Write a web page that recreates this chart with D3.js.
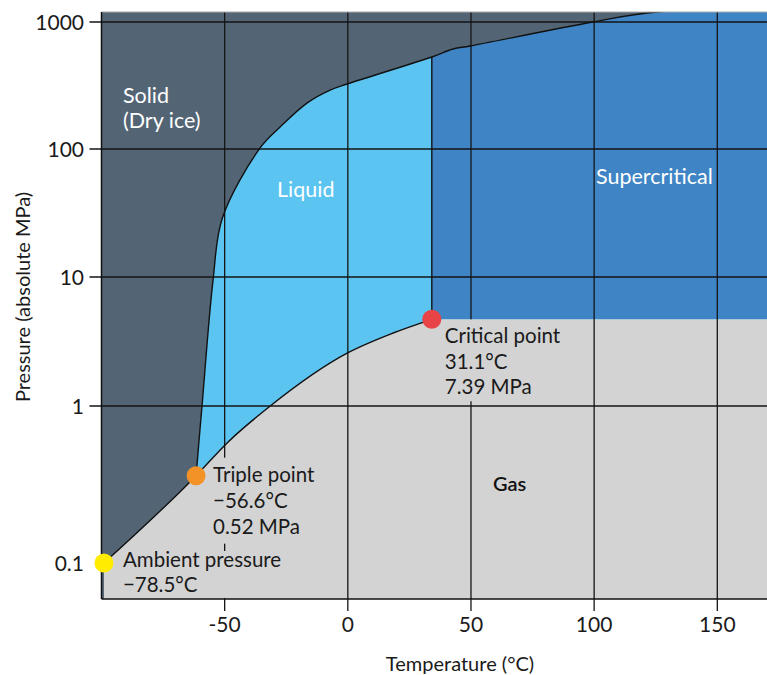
<!DOCTYPE html>
<html>
<head>
<meta charset="utf-8">
<script src="https://cdn.jsdelivr.net/npm/d3@7"></script>
<style>
  body { margin: 0; background: #fff; }
  svg { display: block; font-family: Lato, "Liberation Sans", sans-serif; }
</style>
</head>
<body>
<div id="chart"></div>
<script>
// values (temperature in °C, pressure in MPa on the drawn axis)
const xTicks = [-50, 0, 50, 100, 150];
const yTickValues = [0.1, 1, 10, 100, 1000];
const yTickLabels = ["0.1", "1", "10", "100", "1000"];
const yGridValues = [1, 10, 100, 1000];

const ambient = [-99.0, 0.1];
const triple = [-61.6, 0.36];
const critical = [34.1, 4.7];

const vaporization = [triple, [-49.1, 0.58], [-31.5, 1.0], [0.1, 2.59], [18.4, 3.68], critical];
const melting = [triple, [-59.2, 1.0], [-54.7, 9.5], [-50.9, 29], [-35.6, 102],
  [-27.5, 149], [-16.6, 230], [-7.2, 291], [-0.3, 325], [34.1, 530], [42.7, 613],
  [49.6, 647], [99.5, 1000], [125.5, 1200], [180, 1200]];

const pointLabels = [
  {p: ambient, lines: ["Ambient pressure", "\u221278.5°C"], color: "#ffec00"},
  {p: triple, lines: ["Triple point", "\u221256.6°C", "0.52 MPa"], color: "#f39327"},
  {p: critical, lines: ["Critical point", "31.1°C", "7.39 MPa"], color: "#e84346"}
];

const W = 767, H = 675;
const pLeft = 101.5, pTop = 12, pBottom = 599, pRight = W + 20;

const colors = {solid: "#536574", liquid: "#5bc4f1", super: "#3f84c4", gas: "#d3d3d3"};

const x = d3.scaleLinear().domain([-100, 150]).range([pLeft, 717.3]);
const y = d3.scaleLog().domain([0.1, 1, 10, 100, 1000]).range([563, 406, 277, 149, 22]);

const svg = d3.select("#chart").append("svg").attr("width", W).attr("height", H);
const defs = svg.append("defs");

defs.append("clipPath").attr("id", "plot")
  .append("rect").attr("x", pLeft).attr("y", pTop).attr("width", pRight - pLeft).attr("height", pBottom - pTop);

const meltCurve = d3.curveCatmullRom.alpha(0.5);
const meltArea = d3.area().curve(meltCurve).x(d => x(d[0])).y0(pBottom).y1(d => y(d[1]));
const meltLine = d3.line().curve(meltCurve).x(d => x(d[0])).y(d => y(d[1]));

const gasEdge = [ambient].concat(vaporization);
const gasArea = d3.area().curve(d3.curveMonotoneX).x(d => x(d[0])).y0(pBottom).y1(d => y(d[1]));
const gasLine = d3.line().curve(d3.curveMonotoneX).x(d => x(d[0])).y(d => y(d[1]));

defs.append("clipPath").attr("id", "fluid")
  .append("path").attr("d", meltArea(melting));

// gridlines are knocked out behind the point labels
const mask = defs.append("mask").attr("id", "knock")
  .attr("maskUnits", "userSpaceOnUse").attr("x", 0).attr("y", 0).attr("width", W).attr("height", H);
mask.append("rect").attr("width", W).attr("height", H).attr("fill", "#fff");

const g = svg.append("g").attr("clip-path", "url(#plot)");

// phases
g.append("rect").attr("x", pLeft).attr("y", pTop).attr("width", pRight - pLeft).attr("height", pBottom - pTop)
  .attr("fill", colors.solid);
g.append("path").attr("d", meltArea(melting)).attr("fill", colors.liquid);
g.append("rect").attr("clip-path", "url(#fluid)")
  .attr("x", x(critical[0])).attr("y", pTop)
  .attr("width", pRight - x(critical[0])).attr("height", y(critical[1]) - pTop)
  .attr("fill", colors.super);
g.append("path").attr("d", gasArea(gasEdge)).attr("fill", colors.gas);
g.append("rect").attr("x", x(critical[0]) - 1).attr("y", y(critical[1]))
  .attr("width", pRight - x(critical[0]) + 1).attr("height", pBottom - y(critical[1]))
  .attr("fill", colors.gas);

// grid
const grid = svg.append("g").attr("mask", "url(#knock)")
  .attr("stroke", "#151515").attr("stroke-width", 1.3);
grid.selectAll("line.v").data(xTicks).join("line").attr("class", "v")
  .attr("x1", d => x(d)).attr("x2", d => x(d)).attr("y1", pTop).attr("y2", pBottom + 12);
grid.selectAll("line.h").data(yGridValues).join("line").attr("class", "h")
  .attr("x1", pLeft - 12).attr("x2", W).attr("y1", d => y(d)).attr("y2", d => y(d));

// phase boundaries
const lines = svg.append("g").attr("clip-path", "url(#plot)").attr("fill", "none")
  .attr("stroke", "#111").attr("stroke-width", 1.4);
lines.append("path").attr("d", meltLine(melting));
lines.append("path").attr("d", gasLine(gasEdge));
const meltAtCrit = melting.find(d => d[0] === critical[0]);
lines.append("line").attr("x1", x(critical[0])).attr("x2", x(critical[0]))
  .attr("y1", y(critical[1])).attr("y2", y(meltAtCrit[1]));

// frame
svg.append("line").attr("x1", pLeft).attr("x2", W).attr("y1", pTop).attr("y2", pTop)
  .attr("stroke", "#aaa").attr("stroke-width", 1.2);
svg.append("line").attr("x1", pLeft).attr("x2", pLeft).attr("y1", pTop).attr("y2", pBottom)
  .attr("stroke", "#111").attr("stroke-width", 1.5);
svg.append("line").attr("x1", pLeft).attr("x2", W).attr("y1", pBottom).attr("y2", pBottom)
  .attr("stroke", "#111").attr("stroke-width", 1.5);

// tick labels
svg.append("g").selectAll("text").data(xTicks).join("text")
  .attr("x", d => x(d)).attr("y", 632).attr("text-anchor", "middle")
  .attr("font-size", 21).attr("fill", "#1a1a1a").text(d => d);
svg.append("g").selectAll("text").data(yTickValues).join("text")
  .attr("x", 84).attr("y", d => y(d)).attr("dy", "0.36em").attr("text-anchor", "end")
  .attr("font-size", 21).attr("fill", "#1a1a1a").text((d, i) => yTickLabels[i]);

// axis titles
svg.append("text").attr("x", 460).attr("y", 671).attr("text-anchor", "middle")
  .attr("font-size", 20).attr("fill", "#1a1a1a").text("Temperature (°C)");
svg.append("text").attr("transform", "translate(30,297) rotate(-90)").attr("text-anchor", "middle")
  .attr("font-size", 20).attr("fill", "#1a1a1a").text("Pressure (absolute MPa)");

// region labels
const regions = svg.append("g").attr("font-size", 21.5);
regions.append("text").attr("x", 123).attr("y", 103).attr("fill", "#fff").text("Solid");
regions.append("text").attr("x", 123).attr("y", 128).attr("fill", "#fff").text("(Dry ice)");
regions.append("text").attr("x", 277).attr("y", 197).attr("fill", "#fff").text("Liquid");
regions.append("text").attr("x", 596).attr("y", 184).attr("fill", "#fff").text("Supercritical");
regions.append("text").attr("x", 493).attr("y", 491).attr("fill", "#111").attr("font-size", 20)
  .attr("font-weight", 600).text("Gas");

// point labels
const offsets = [[19, 4], [17, 6], [13, 24]];
const steps = [25, 26, 25.5];
const padTop = [-4, 4, 4], padBottom = [null, 6, 3];
pointLabels.forEach((d, i) => {
  const t = svg.append("text").attr("font-size", 20.5).attr("fill", "#1a1a1a");
  t.selectAll("tspan").data(d.lines).join("tspan")
    .attr("x", x(d.p[0]) + offsets[i][0])
    .attr("y", (s, j) => y(d.p[1]) + offsets[i][1] + j * steps[i])
    .text(s => s);
  const b = t.node().getBBox();
  const y0 = b.y - padTop[i];
  const y1 = padBottom[i] === null ? pBottom - 1 : b.y + b.height + padBottom[i];
  mask.append("rect").attr("fill", "#000")
    .attr("x", b.x - 3).attr("y", y0).attr("width", b.width + 6).attr("height", y1 - y0);
});

// points
svg.append("g").selectAll("circle").data(pointLabels).join("circle")
  .attr("cx", d => x(d.p[0])).attr("cy", d => y(d.p[1])).attr("r", 9.5)
  .attr("fill", d => d.color);
</script>
</body>
</html>
